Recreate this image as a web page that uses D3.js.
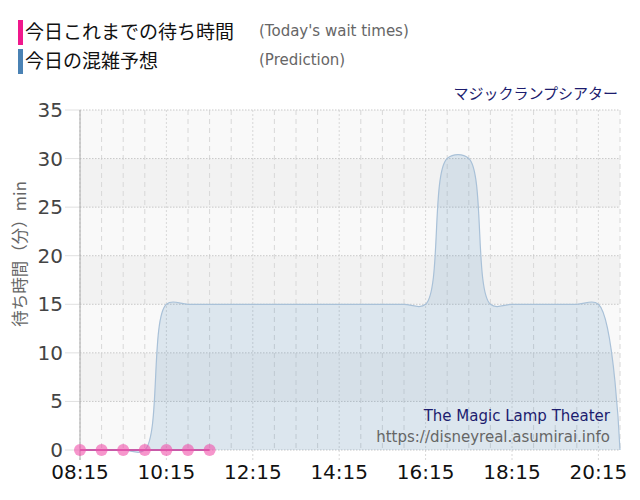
<!DOCTYPE html>
<html lang="ja">
<head>
  <meta charset="UTF-8">
  <title>Wait times</title>
  <style>
    html, body { margin: 0; padding: 0; background: #fff; overflow: hidden; }
    svg { display: block; }
    .jp { font-family: "Noto Sans CJK JP", sans-serif; }
    .lat { font-family: "DejaVu Sans", Verdana, sans-serif; }
  </style>
</head>
<body>
  <div id="chart"></div>
  <script src="https://d3js.org/d3.v7.min.js"></script>
  <script>
    const SVGWIDTH = 640;
    const SVGHEIGHT = 500;
    const margin = {top: 110, right: 20, bottom: 50, left: 80};
    const innerWidth = SVGWIDTH - margin.left - margin.right;
    const innerHeight = SVGHEIGHT - margin.top - margin.bottom;

    // prediction, every 30 min
    const predTimes = ["08:15","08:45","09:15","09:45","10:15","10:45","11:15","11:45","12:15","12:45",
      "13:15","13:45","14:15","14:45","15:15","15:45","16:15","16:45","17:15","17:45",
      "18:15","18:45","19:15","19:45","20:15","20:45"];
    const predValues = [0,0,0,0,15,15,15,15,15,15,
      15,15,15,15,15,15,15,30,30,15,
      15,15,15,15,15,0];
    // actual wait times so far
    const actualTimes = ["08:15","08:45","09:15","09:45","10:15","10:45","11:15"];
    const actualValues = [0,0,0,0,0,0,0];
    const xTickLabels = ["08:15","10:15","12:15","14:15","16:15","18:15","20:15"];
    const yTicks = [0,5,10,15,20,25,30,35];

    const toMin = s => { const [h, m] = s.split(':').map(Number); return h * 60 + m; };

    const xScale = d3.scaleLinear()
      .domain([toMin("08:15"), toMin("20:45")])
      .range([0, innerWidth]);
    const yScale = d3.scaleLinear()
      .domain([0, 35])
      .range([innerHeight, 0]);

    const svg = d3.select('#chart').append('svg')
      .attr('width', SVGWIDTH)
      .attr('height', SVGHEIGHT);

    // legend
    const legend = [
      {jp: '今日これまでの待ち時間', en: "(Today's wait times)", color: '#f0188c', y: 20},
      {jp: '今日の混雑予想', en: '(Prediction)', color: '#4a82b4', y: 49}
    ];
    const lg = svg.append('g');
    legend.forEach(d => {
      lg.append('rect').attr('x', 18).attr('y', d.y).attr('width', 5).attr('height', 25).attr('fill', d.color);
      lg.append('text').attr('class', 'jp').attr('x', 25).attr('y', d.y + 19)
        .attr('font-size', 19).attr('fill', '#111').text(d.jp);
      lg.append('text').attr('class', 'lat').attr('x', 259).attr('y', d.y + 16)
        .attr('font-size', 15).attr('fill', '#666').text(d.en);
    });

    svg.append('text').attr('class', 'jp')
      .attr('x', 618).attr('y', 99).attr('text-anchor', 'end')
      .attr('font-size', 15).attr('fill', '#1c1c6e')
      .text('マジックランプシアター');

    const main = svg.append('g')
      .attr('transform', `translate(${margin.left},${margin.top})`);

    // alternating bands
    main.selectAll('rect.band')
      .data(yTicks.slice(0, -1))
      .enter().append('rect')
      .attr('class', 'band')
      .attr('x', 0)
      .attr('y', d => yScale(d + 5))
      .attr('width', innerWidth)
      .attr('height', d => yScale(d) - yScale(d + 5))
      .attr('fill', (d, i) => i % 2 === 0 ? '#f9f9f9' : '#f2f2f2');

    // vertical grid every 30 min
    const vGrid = d3.range(toMin("08:15"), toMin("20:45") + 1, 30);
    main.selectAll('line.vgrid')
      .data(vGrid)
      .enter().append('line')
      .attr('x1', d => xScale(d)).attr('x2', d => xScale(d))
      .attr('y1', 0)
      .attr('y2', d => (d - toMin("08:15")) % 120 === 0 ? innerHeight + 10 : innerHeight)
      .attr('stroke', '#d8d8d8')
      .attr('stroke-dasharray', d => (d - toMin("08:15")) % 120 === 0 ? '2,2' : '5,4');

    // horizontal grid
    main.selectAll('line.hgrid')
      .data(yTicks)
      .enter().append('line')
      .attr('x1', 0).attr('x2', innerWidth)
      .attr('y1', d => yScale(d)).attr('y2', d => yScale(d))
      .attr('stroke', '#c8c8c8')
      .attr('stroke-dasharray', '1.5,1.5');
    main.selectAll('line.htick')
      .data(yTicks)
      .enter().append('line')
      .attr('x1', -15).attr('x2', 0)
      .attr('y1', d => yScale(d)).attr('y2', d => yScale(d))
      .attr('stroke', '#e0e0e0');

    // prediction area
    const pred = predTimes.map((t, i) => ({t: toMin(t), v: predValues[i]}));
    const curve = d3.curveCatmullRom.alpha(0.5);
    const area = d3.area()
      .x(d => xScale(d.t))
      .y0(innerHeight)
      .y1(d => yScale(d.v))
      .curve(curve);
    const line = d3.line()
      .x(d => xScale(d.t))
      .y(d => yScale(d.v))
      .curve(curve);
    main.append('path').datum(pred)
      .attr('d', area)
      .attr('fill', 'rgba(70,130,180,0.16)');
    main.append('path').datum(pred)
      .attr('d', line)
      .attr('fill', 'none')
      .attr('stroke', '#a9c1d8')
      .attr('stroke-width', 1.2);

    // y axis line
    main.append('line')
      .attr('x1', 0).attr('x2', 0).attr('y1', 0).attr('y2', innerHeight + 10)
      .attr('stroke', '#a8a8a8');

    // y labels
    main.selectAll('text.ylab')
      .data(yTicks)
      .enter().append('text')
      .attr('class', 'lat')
      .attr('x', -17)
      .attr('y', d => yScale(d) + 7)
      .attr('text-anchor', 'end')
      .attr('font-size', 20)
      .attr('fill', '#444')
      .text(d => d);

    // x labels
    main.selectAll('text.xlab')
      .data(xTickLabels)
      .enter().append('text')
      .attr('class', 'lat')
      .attr('x', d => xScale(toMin(d)))
      .attr('y', innerHeight + 29)
      .attr('text-anchor', 'middle')
      .attr('font-size', 20)
      .attr('fill', '#111')
      .text(d => d);

    // y axis title
    svg.append('text').attr('class', 'jp')
      .attr('transform', 'translate(26,254) rotate(-90)')
      .attr('text-anchor', 'middle')
      .attr('font-size', 16.5)
      .attr('fill', '#666')
      .text('待ち時間（分）min');

    // watermark
    main.append('text').attr('class', 'lat')
      .attr('x', 530).attr('y', 311).attr('text-anchor', 'end')
      .attr('font-size', 15).attr('fill', '#1c1c6e')
      .text('The Magic Lamp Theater');
    main.append('text').attr('class', 'lat')
      .attr('x', 530).attr('y', 332).attr('text-anchor', 'end')
      .attr('font-size', 15).attr('fill', '#666')
      .text('https://disneyreal.asumirai.info');

    // actual wait times
    const actual = actualTimes.map((t, i) => ({t: toMin(t), v: actualValues[i]}));
    main.append('path').datum(actual)
      .attr('d', d3.line().x(d => xScale(d.t)).y(d => yScale(d.v)))
      .attr('fill', 'none')
      .attr('stroke', '#c85aa8')
      .attr('stroke-width', 2);
    main.selectAll('circle.dot')
      .data(actual)
      .enter().append('circle')
      .attr('cx', d => xScale(d.t))
      .attr('cy', d => yScale(d.v))
      .attr('r', 6)
      .attr('fill', 'rgba(240,80,170,0.6)');
  </script>
</body>
</html>
